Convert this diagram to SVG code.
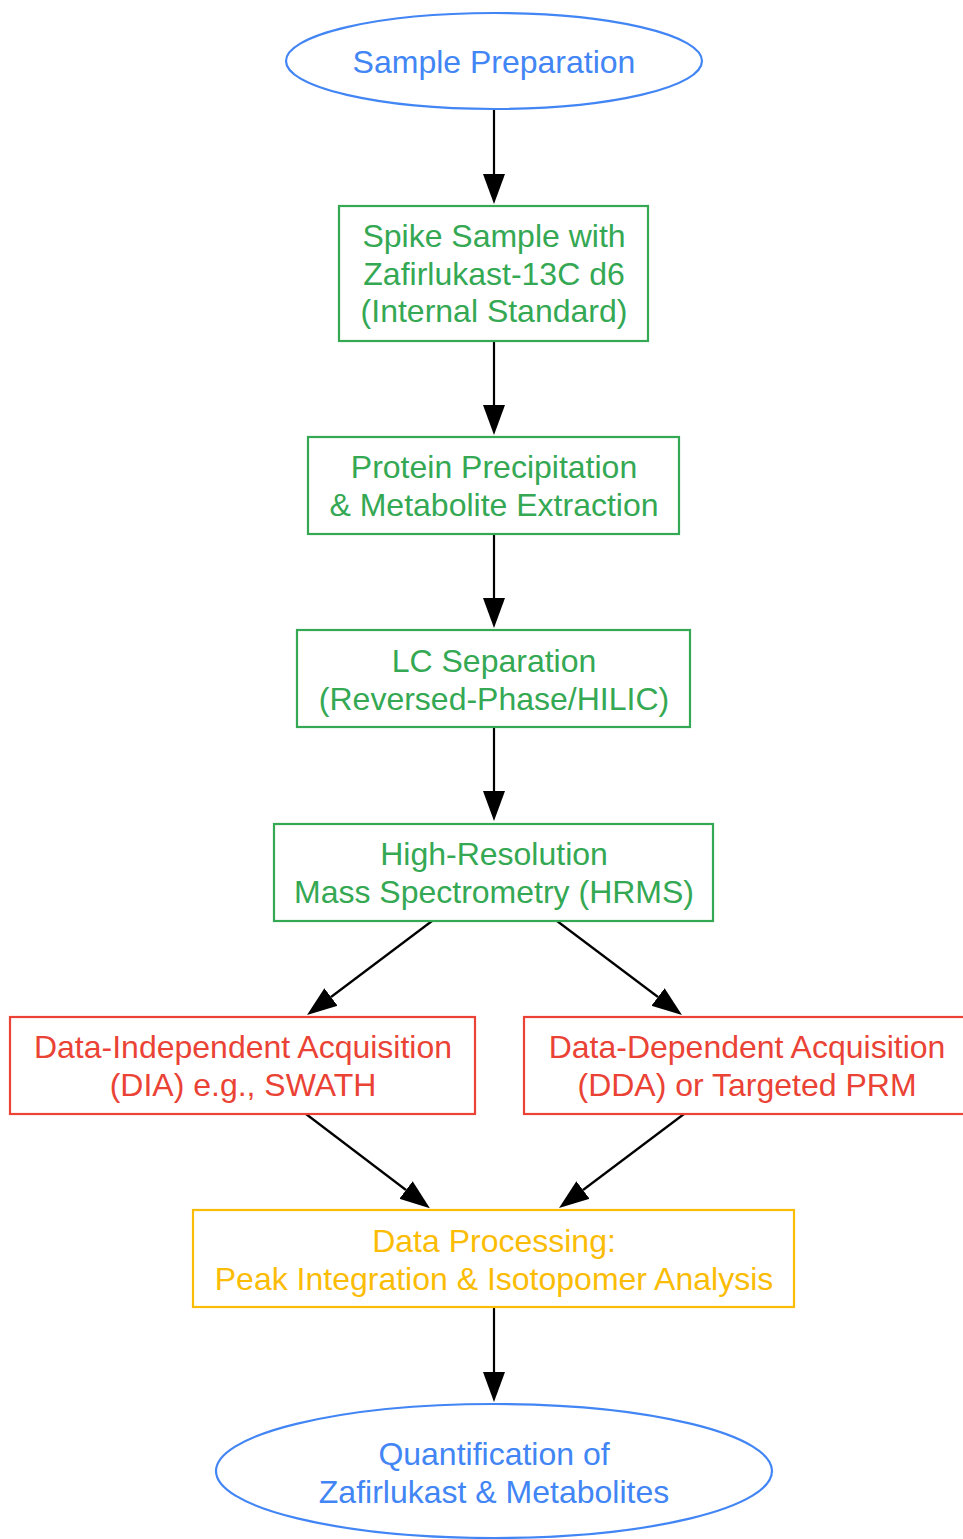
<svg xmlns="http://www.w3.org/2000/svg" width="963" height="1539" viewBox="0 0 963 1539">
<style>
text{font-family:"Liberation Sans",Arial,sans-serif;font-size:32px;text-anchor:middle}
.blue{fill:none;stroke:#4285F4;stroke-width:2.2}
.green{fill:none;stroke:#34A853;stroke-width:2.2}
.red{fill:none;stroke:#EA4335;stroke-width:2.2}
.yellow{fill:none;stroke:#FBBC05;stroke-width:2.2}
.tb{fill:#4285F4}.tg{fill:#34A853}.tr{fill:#EA4335}.ty{fill:#FBBC05}
.edge{stroke:#000;stroke-width:2.2;fill:none;marker-end:url(#ah)}
</style>
<defs>
<marker id="ah" markerUnits="userSpaceOnUse" markerWidth="31" markerHeight="24" refX="0" refY="12" orient="auto" viewBox="0 0 31 24">
<path d="M0,1 L30,12 L0,23 z" fill="#000"/>
</marker>
</defs>
<rect width="963" height="1539" fill="#fff"/>
<g id="connectors">
<line class="edge" x1="494" y1="109" x2="494" y2="174"/>
<line class="edge" x1="494" y1="341" x2="494" y2="405"/>
<line class="edge" x1="494" y1="534" x2="494" y2="598"/>
<line class="edge" x1="494" y1="727" x2="494" y2="791"/>
<line class="edge" x1="432" y1="921" x2="331" y2="997"/>
<line class="edge" x1="557" y1="921" x2="658" y2="997"/>
<line class="edge" x1="306" y1="1114" x2="406" y2="1190"/>
<line class="edge" x1="684" y1="1114" x2="583" y2="1190"/>
<line class="edge" x1="494" y1="1307" x2="494" y2="1372"/>
</g>
<g id="sample_prep">
<ellipse class="blue" cx="494" cy="61" rx="208" ry="48"/>
<text class="tb" x="494" y="73">Sample Preparation</text>
</g>
<g id="spike">
<rect class="green" x="339" y="206" width="309" height="135"/>
<text class="tg" x="494" y="247">Spike Sample with</text>
<text class="tg" x="494" y="285">Zafirlukast-13C d6</text>
<text class="tg" x="494" y="322">(Internal Standard)</text>
</g>
<g id="precip">
<rect class="green" x="308" y="437" width="371" height="97"/>
<text class="tg" x="494" y="478">Protein Precipitation</text>
<text class="tg" x="494" y="516">&amp; Metabolite Extraction</text>
</g>
<g id="lc">
<rect class="green" x="297" y="630" width="393" height="97"/>
<text class="tg" x="494" y="672">LC Separation</text>
<text class="tg" x="494" y="710">(Reversed-Phase/HILIC)</text>
</g>
<g id="hrms">
<rect class="green" x="274" y="824" width="439" height="97"/>
<text class="tg" x="494" y="865">High-Resolution</text>
<text class="tg" x="494" y="903">Mass Spectrometry (HRMS)</text>
</g>
<g id="dia">
<rect class="red" x="10" y="1017" width="465" height="97"/>
<text class="tr" x="243" y="1058">Data-Independent Acquisition</text>
<text class="tr" x="243" y="1096">(DIA) e.g., SWATH</text>
</g>
<g id="dda">
<rect class="red" x="524" y="1017" width="446" height="97"/>
<text class="tr" x="747" y="1058">Data-Dependent Acquisition</text>
<text class="tr" x="747" y="1096">(DDA) or Targeted PRM</text>
</g>
<g id="processing">
<rect class="yellow" x="193" y="1210" width="601" height="97"/>
<text class="ty" x="494" y="1252">Data Processing:</text>
<text class="ty" x="494" y="1290">Peak Integration &amp; Isotopomer Analysis</text>
</g>
<g id="quant">
<ellipse class="blue" cx="494" cy="1471" rx="278" ry="67"/>
<text class="tb" x="494" y="1465">Quantification of</text>
<text class="tb" x="494" y="1503">Zafirlukast &amp; Metabolites</text>
</g>
</svg>
